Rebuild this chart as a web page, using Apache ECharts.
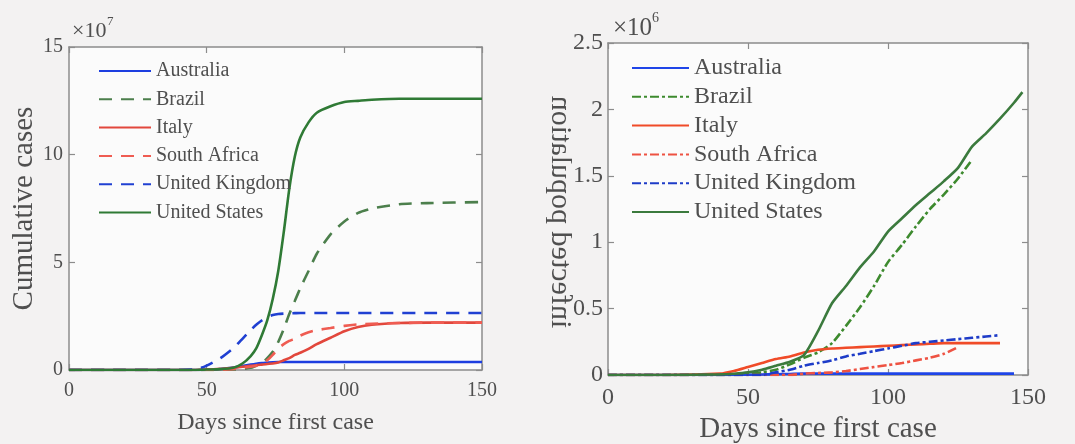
<!DOCTYPE html>
<html>
<head>
<meta charset="utf-8">
<title>cases</title>
<script src="https://cdn.jsdelivr.net/npm/echarts@6/dist/echarts.min.js"></script>
<style>
  html, body { margin: 0; padding: 0; background: #f3f2f2; }
  #chart { width: 1075px; height: 444px; }
</style>
</head>
<body>
<div id="chart"></div>
<script>
// left panel: cumulative cases (x1e7)
var leftDays = [0, 20, 40, 45, 48, 50, 55, 60, 63, 66, 68, 70, 72, 74, 76, 78, 80, 82, 84, 87, 90, 95, 100, 105, 110, 120, 130, 150]
var ausLeft = [0, 0, 0, 0, 0.005, 0.01, 0.05, 0.12, 0.18, 0.25, 0.29, 0.32, 0.34, 0.36, 0.37, 0.37, 0.37, 0.37, 0.37, 0.37, 0.37, 0.37, 0.37, 0.37, 0.37, 0.37, 0.37, 0.37]
var braLeft = [0, 0, 0, 0, 0, 0, 0.01, 0.02, 0.05, 0.1, 0.2, 0.3, 0.55, 0.85, 1.3, 1.9, 2.6, 3.2, 3.8, 4.6, 5.4, 6.3, 6.9, 7.3, 7.5, 7.7, 7.75, 7.8]
var itaLeft = [0, 0, 0, 0, 0.01, 0.02, 0.05, 0.1, 0.15, 0.2, 0.22, 0.25, 0.28, 0.3, 0.35, 0.45, 0.55, 0.7, 0.8, 0.98, 1.2, 1.5, 1.8, 2.0, 2.1, 2.18, 2.2, 2.2]
var zafLeft = [0, 0, 0, 0, 0, 0, 0.01, 0.05, 0.1, 0.15, 0.2, 0.3, 0.45, 0.7, 1.0, 1.2, 1.35, 1.45, 1.6, 1.75, 1.85, 1.95, 2.05, 2.12, 2.15, 2.18, 2.2, 2.2]
var gbrLeft = [0, 0, 0, 0.02, 0.1, 0.2, 0.55, 1.05, 1.45, 1.85, 2.1, 2.3, 2.45, 2.55, 2.6, 2.62, 2.63, 2.64, 2.65, 2.65, 2.65, 2.65, 2.65, 2.65, 2.65, 2.65, 2.65, 2.65]
var usaLeft = [0, 0, 0, 0, 0.01, 0.02, 0.04, 0.12, 0.3, 0.65, 1.0, 1.6, 2.3, 3.3, 4.6, 6.4, 8.4, 9.9, 10.8, 11.5, 11.95, 12.25, 12.45, 12.5, 12.55, 12.6, 12.6, 12.6]

// right panel: infected population (x1e6)
var rightDays = [0, 20, 40, 45, 50, 55, 60, 65, 70, 75, 80, 85, 90, 95, 100, 105, 110, 115, 120, 125, 130, 135, 140, 145, 148]
var ausRight = [0, 0, 0, 0, 0.002, 0.004, 0.006, 0.008, 0.01, 0.01, 0.01, 0.01, 0.01, 0.01, 0.01, 0.01, 0.01, 0.01, 0.01, 0.01, 0.01, 0.01, 0.01, 0.01, null]
var braRight = [0, 0, 0, 0.005, 0.01, 0.02, 0.04, 0.08, 0.13, 0.17, 0.24, 0.37, 0.51, 0.67, 0.85, 0.98, 1.12, 1.25, 1.36, 1.48, 1.62, null, null, null, null]
var itaRight = [0, 0, 0.01, 0.03, 0.06, 0.09, 0.12, 0.14, 0.17, 0.19, 0.2, 0.205, 0.21, 0.215, 0.22, 0.225, 0.23, 0.235, 0.24, 0.24, 0.24, 0.24, 0.24, null, null]
var zafRight = [0, 0, 0, 0, 0, 0, 0, 0, 0.01, 0.015, 0.02, 0.03, 0.045, 0.06, 0.075, 0.09, 0.11, 0.13, 0.16, 0.21, null, null, null, null, null]
var gbrRight = [0, 0, 0, 0, 0, 0, 0.02, 0.04, 0.07, 0.09, 0.11, 0.14, 0.16, 0.18, 0.2, 0.22, 0.24, 0.25, 0.26, 0.27, 0.28, 0.29, 0.3, null, null]
var usaRight = [0, 0, 0.005, 0.01, 0.02, 0.04, 0.07, 0.1, 0.15, 0.33, 0.54, 0.67, 0.81, 0.93, 1.08, 1.18, 1.28, 1.37, 1.46, 1.56, 1.72, 1.82, 1.93, 2.05, 2.13]

var countries = ['Australia', 'Brazil', 'Italy', 'South Africa', 'United Kingdom', 'United States']

var FONT = '"Liberation Serif", serif'
var TEXT = '#4f4f4f'
var AXIS = '#8c8c8c'

function pairs (days, vals) {
  var out = []
  for (var i = 0; i < days.length; i++) out.push([days[i], vals[i]])
  return out
}

function line (name, idx, days, vals, color, dash) {
  return {
    name: name,
    type: 'line',
    xAxisIndex: idx,
    yAxisIndex: idx,
    data: pairs(days, vals),
    symbol: 'none',
    smooth: 0.2,
    connectNulls: false,
    lineStyle: { color: color, width: 2.6, type: dash || 'solid' },
    itemStyle: { color: color },
    z: 3
  }
}

function xAx (grid, pos, size, margin) {
  return {
    type: 'value', gridIndex: grid, position: pos, min: 0, max: 150, interval: 50,
    axisLine: { show: true, onZero: false, lineStyle: { color: AXIS, width: 1.5 } },
    axisTick: { show: true, inside: true, length: 6, lineStyle: { color: AXIS, width: 1.2 } },
    axisLabel: { show: pos === 'bottom', margin: margin, color: TEXT, fontFamily: FONT, fontSize: size },
    splitLine: { show: false }
  }
}

function yAx (grid, pos, max, step, size, margin) {
  return {
    type: 'value', gridIndex: grid, position: pos, min: 0, max: max, interval: step,
    axisLine: { show: true, onZero: false, lineStyle: { color: AXIS, width: 1.5 } },
    axisTick: { show: true, inside: true, length: 6, lineStyle: { color: AXIS, width: 1.2 } },
    axisLabel: { show: pos === 'left', margin: margin, color: TEXT, fontFamily: FONT, fontSize: size },
    splitLine: { show: false }
  }
}

var dashL = [13, 9]
var dashDot = [9, 3, 3, 3]
// right series names carry a trailing space so each legend picks its own line style
var sp = ' '

var xAxes = [xAx(0, 'bottom', 20, 11), xAx(0, 'top', 20, 0), xAx(1, 'bottom', 24, 11), xAx(1, 'top', 24, 0)]
xAxes[0].name = 'Days since first case'
xAxes[0].nameLocation = 'middle'
xAxes[0].nameGap = 41
xAxes[0].nameTextStyle = { color: TEXT, fontFamily: FONT, fontSize: 24 }
xAxes[2].name = 'Days since first case'
xAxes[2].nameLocation = 'middle'
xAxes[2].nameGap = 39
xAxes[2].nameTextStyle = { color: TEXT, fontFamily: FONT, fontSize: 29 }

var yAxes = [yAx(0, 'left', 15, 5, 20, 6), yAx(0, 'right', 15, 5, 20, 0), yAx(1, 'left', 2.5, 0.5, 24, 5), yAx(1, 'right', 2.5, 0.5, 24, 0)]
yAxes[0].name = 'Cumulative cases'
yAxes[0].nameLocation = 'middle'
yAxes[0].nameGap = 22
yAxes[0].nameTextStyle = { color: TEXT, fontFamily: FONT, fontSize: 29 }

var option = {
  backgroundColor: '#f3f2f2',
  animation: false,
  grid: [
    { left: 69, top: 47, width: 413, height: 323, outerBoundsMode: 'none', show: true, backgroundColor: '#fbfbfb', borderWidth: 0 },
    { left: 608, top: 43, width: 420, height: 332, outerBoundsMode: 'none', show: true, backgroundColor: '#fbfbfb', borderWidth: 0 }
  ],
  legend: [
    {
      orient: 'vertical', left: 93, top: 55, itemWidth: 52, itemHeight: 14, itemGap: 6.3,
      data: countries,
      itemStyle: { opacity: 0, borderWidth: 0 },
      textStyle: { color: TEXT, fontFamily: FONT, fontSize: 20, lineHeight: 22 }
    },
    {
      orient: 'vertical', left: 626, top: 51, itemWidth: 57, itemHeight: 14, itemGap: 4.8,
      data: countries.map(function (c) { return c + sp }),
      formatter: function (n) { return n.trim() },
      itemStyle: { opacity: 0, borderWidth: 0 },
      textStyle: { color: TEXT, fontFamily: FONT, fontSize: 24, lineHeight: 24 }
    }
  ],
  xAxis: xAxes,
  yAxis: yAxes,
  graphic: [
    { type: 'text', left: 72, top: 20, style: { text: '×10', fill: TEXT, font: '22px "Liberation Serif"' } },
    { type: 'text', left: 107, top: 15, style: { text: '7', fill: TEXT, font: '13px "Liberation Serif"' } },
    { type: 'text', left: 613, top: 16, style: { text: '×10', fill: TEXT, font: '25px "Liberation Serif"' } },
    { type: 'text', left: 652, top: 11, style: { text: '6', fill: TEXT, font: '14px "Liberation Serif"' } },
    // mirrored axis title, as in the source figure
    {
      type: 'text', x: 560, y: 212, rotation: Math.PI / 2, scaleY: -1,
      style: { text: 'infected population', fill: TEXT, font: '30px "Liberation Serif"', align: 'center', verticalAlign: 'middle' }
    }
  ],
  series: [
    line('Australia', 0, leftDays, ausLeft, '#1d3ee0'),
    line('Brazil', 0, leftDays, braLeft, '#4c7f4c', dashL),
    line('Italy', 0, leftDays, itaLeft, '#e2473c'),
    line('South Africa', 0, leftDays, zafLeft, '#ef5c52', dashL),
    line('United Kingdom', 0, leftDays, gbrLeft, '#2040d2', dashL),
    line('United States', 0, leftDays, usaLeft, '#2f7a35'),
    line('Australia' + sp, 2, rightDays, ausRight, '#1f45e8'),
    line('Brazil' + sp, 2, rightDays, braRight, '#3d8a2e', dashDot),
    line('Italy' + sp, 2, rightDays, itaRight, '#f04b28'),
    line('South Africa' + sp, 2, rightDays, zafRight, '#ee5242', dashDot),
    line('United Kingdom' + sp, 2, rightDays, gbrRight, '#1e3cc8', dashDot),
    line('United States' + sp, 2, rightDays, usaRight, '#3b7a3d')
  ]
}

var chart = echarts.init(document.getElementById('chart'))
chart.setOption(option)
</script>
</body>
</html>
